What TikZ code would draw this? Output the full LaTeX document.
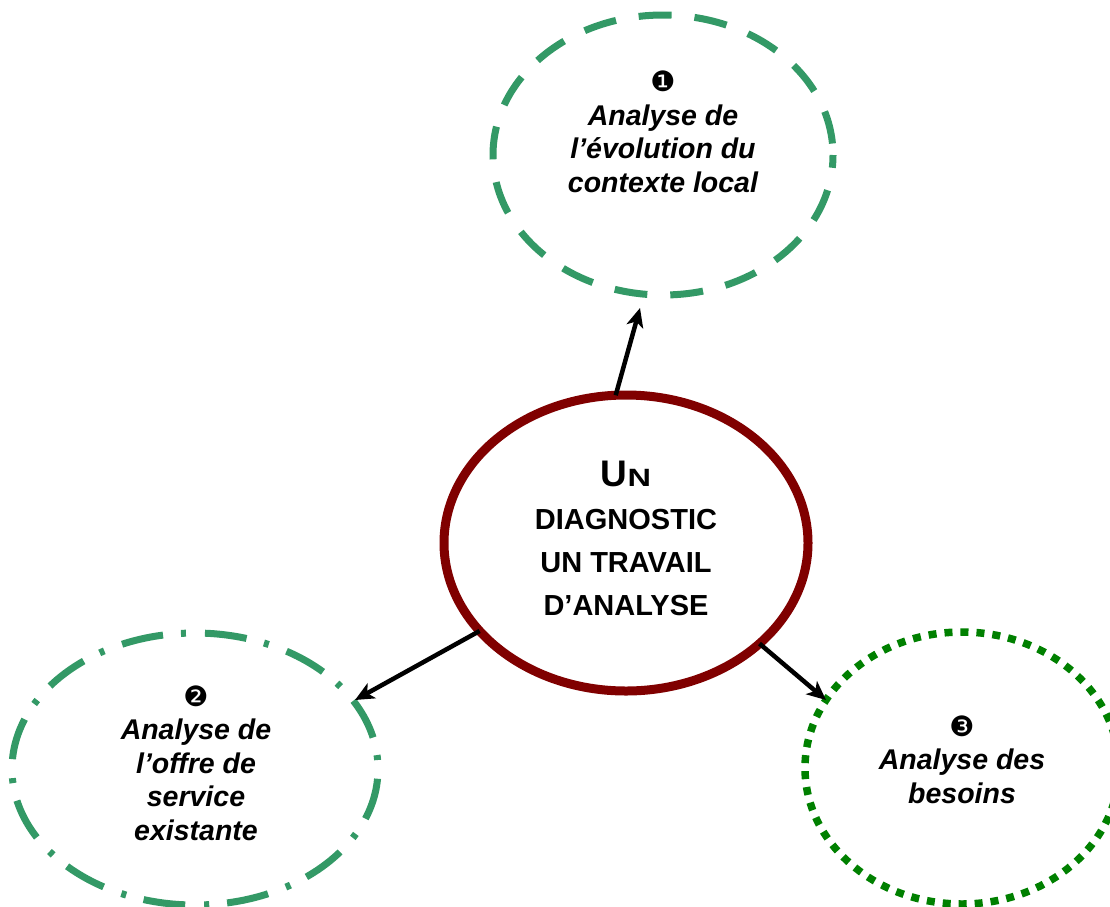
\documentclass[tikz,border=0pt]{standalone}
\usepackage{fontspec}
\usepackage{graphicx}
\setmainfont{Liberation Sans}
\newfontfamily\dingfont{DejaVu Sans}
\usetikzlibrary{shapes.geometric,arrows.meta}
\definecolor{sea}{HTML}{339966}
\definecolor{dgreen}{HTML}{008000}
\definecolor{maroonc}{HTML}{800000}
\newcommand{\dingnum}[1]{{\dingfont\upshape\mdseries\fontsize{28}{28}\selectfont #1}}
\begin{document}
\begin{tikzpicture}[x=1pt,y=-1pt,
  ell/.style={ellipse, inner sep=0pt, outer sep=0pt},
  lbl/.style={align=center, anchor=base, inner sep=0pt, font=\fontsize{28.5}{33.5}\selectfont\bfseries\itshape},
  ctr/.style={align=center, anchor=base, inner sep=0pt, font=\fontsize{29}{43}\selectfont\bfseries},
  conn/.style={line width=4.5pt, -{Stealth[length=19pt,width=17pt,inset=5pt]}}]
\useasboundingbox (0,0) rectangle (1110,906);
\clip (0,0) rectangle (1110,906);
% ellipses
\node[ell, draw=sea, line width=7pt, minimum width=340pt, minimum height=280pt,
  dash pattern=on 33pt off 23pt, dash phase=44.5pt] (e1) at (663,155) {};
\node[ell, draw=maroonc, line width=9pt, minimum width=364pt, minimum height=296pt] (c) at (626,543) {};
\node[ell, draw=sea, line width=7pt, minimum width=366pt, minimum height=272pt,
  dash pattern=on 42pt off 19pt on 5pt off 18pt, dash phase=52pt] (e2) at (195,769) {};
\node[ell, draw=dgreen, line width=7.5pt, minimum width=314pt, minimum height=272pt,
  dash pattern=on 8pt off 8pt] (e3) at (962,768) {};
% texts
\node[lbl] (t1) at (663,192) {\dingnum{❶}\\Analyse de\\l’évolution du\\contexte local};
\node[ctr] (tc) at (626,615) {\fontsize{37}{43}\selectfont U\scalebox{1.3}[1]{\fontsize{25}{25}\selectfont N}\\DIAGNOSTIC\\UN TRAVAIL\\D’ANALYSE};
\node[lbl] (t2) at (196,840) {\dingnum{❷}\\Analyse de\\l’offre de\\service\\existante};
\node[lbl] (t3) at (962,803) {\dingnum{❸}\\Analyse des\\besoins};
% connectors
\coordinate (a1) at (640,308);
\coordinate (a2) at (355,700);
\coordinate (a3) at (826,700);
\draw[conn] (c.94) -- (a1);
\draw[conn] (c.211) -- (a2);
\draw[conn] (c.-37) -- (a3);
\end{tikzpicture}
\end{document}
